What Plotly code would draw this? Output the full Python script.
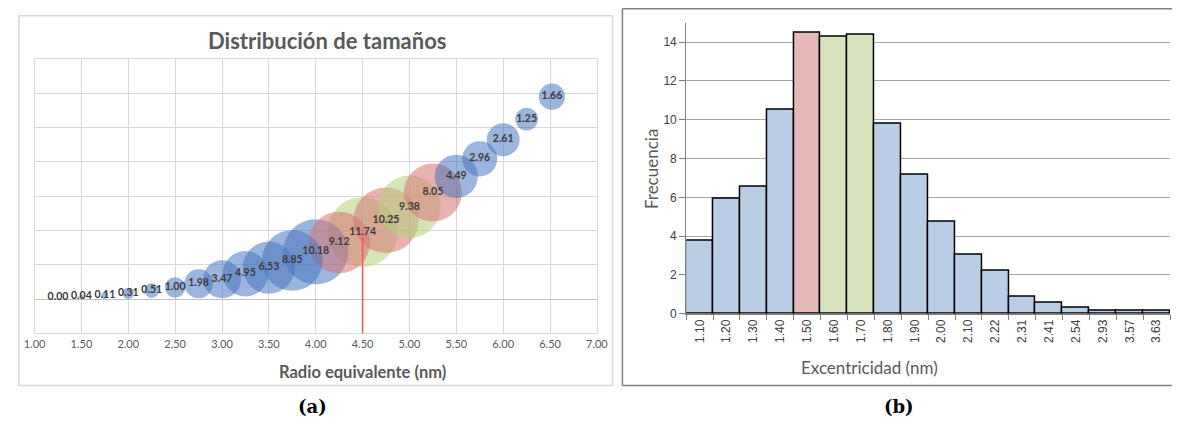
import plotly.graph_objects as go

# ---------- Panel (a): bubble chart data ----------
radio = [1.25, 1.5, 1.75, 2.0, 2.25, 2.5, 2.75, 3.0, 3.25, 3.5, 3.75,
         4.0, 4.25, 4.5, 4.75, 5.0, 5.25, 5.5, 5.75, 6.0, 6.25, 6.52]
volumen = [0.04, 0.07, 0.11, 0.17, 0.25, 0.34, 0.45, 0.58, 0.74, 0.92, 1.13,
           1.38, 1.65, 1.96, 2.30, 2.69, 3.11, 3.58, 4.09, 4.65, 5.25, 5.90]
porcentaje = [0.00, 0.04, 0.11, 0.31, 0.51, 1.00, 1.98, 3.47, 4.95, 6.53, 8.85,
              10.18, 9.12, 11.74, 10.25, 9.38, 8.05, 4.49, 2.96, 2.61, 1.25, 1.66]
grupo_a = ["b", "b", "b", "b", "b", "b", "b", "b", "b", "b", "b",
           "b", "r", "g", "r", "g", "r", "b", "b", "b", "b", "b"]
linea_media = 4.5
linea_top = 1.8

# ---------- Panel (b): histogram data ----------
excentricidad = ["1.10", "1.20", "1.30", "1.40", "1.50", "1.60", "1.70", "1.80", "1.90",
                 "2.00", "2.10", "2.22", "2.31", "2.41", "2.54", "2.93", "3.57", "3.63"]
frecuencia = [3.75, 5.95, 6.55, 10.5, 14.5, 14.3, 14.4, 9.8, 7.15,
              4.75, 3.05, 2.2, 0.86, 0.6, 0.3, 0.15, 0.15, 0.15]
grupo_b = ["b", "b", "b", "b", "r", "g", "g", "b", "b",
           "b", "b", "b", "b", "b", "b", "b", "b", "b"]

W, H = 1183, 430
bubble_cols = {"b": "rgba(70,118,190,0.77)", "r": "rgba(214,118,116,0.8)", "g": "rgba(180,208,125,0.8)"}
bar_cols = {"b": "#b9cde5", "r": "#e6b9b8", "g": "#d7e4bd"}
CAL = "Lato, 'Open Sans', sans-serif"
ARI = "'Liberation Sans', Arial, sans-serif"

# Excel draws larger bubbles first
order = sorted(range(len(radio)), key=lambda i: -porcentaje[i])

fig = go.Figure()
fig.add_trace(go.Scatter(
    x=[radio[i] for i in order], y=[volumen[i] for i in order],
    mode="markers+text",
    text=["<b>%.2f</b>" % porcentaje[i] for i in order],
    textposition="middle center",
    textfont=dict(family=CAL, size=10.5, color="#3a3a3a"),
    marker=dict(size=[porcentaje[i] for i in order], sizemode="area",
                sizeref=2 * max(porcentaje) / 70 ** 2,
                color=[bubble_cols[grupo_a[i]] for i in order],
                line=dict(width=0)),
    xaxis="x", yaxis="y", showlegend=False, hoverinfo="skip"))

fig.add_trace(go.Bar(
    x=excentricidad, y=frecuencia,
    marker=dict(color=[bar_cols[g] for g in grupo_b], line=dict(color="#000000", width=1.5)),
    xaxis="x2", yaxis="y2", showlegend=False, hoverinfo="skip"))

fig.add_shape(type="line", xref="x", yref="y", x0=linea_media, x1=linea_media,
              y0=-1, y1=linea_top, line=dict(color="#ff5050", width=1.5))

# frames
fig.add_shape(type="rect", xref="paper", yref="paper", x0=8 / W, x1=613 / W,
              y0=(H - 392) / H, y1=(H - 16) / H, line=dict(color="#d9d9d9", width=1.5), layer="below")
fb_top, fb_bot, fb_left = (H - 9) / H, (H - 392) / H, 623 / W
for (xa, ya, xb, yb) in [(fb_left, fb_top, 1.0, fb_top), (fb_left, fb_bot, 1.0, fb_bot),
                         (fb_left, fb_bot, fb_left, fb_top)]:
    fig.add_shape(type="line", xref="paper", yref="paper", x0=xa, y0=ya, x1=xb, y1=yb,
                  line=dict(color="#808080", width=1.5), layer="below")

ann = [
    dict(text="<b>Distribución de tamaños</b>", x=323 / W, y=(H - 41) / H,
         font=dict(family=CAL, size=22, color="#595959")),
    dict(text="<b>Radio equivalente (nm)</b>", x=358 / W, y=(H - 378) / H,
         font=dict(family=CAL, size=16.5, color="#595959")),
    dict(text="Frecuencia", x=652 / W, y=(H - 172) / H, textangle=-90,
         font=dict(family=CAL, size=17, color="#595959")),
    dict(text="Excentricidad (nm)", x=875 / W, y=(H - 374) / H,
         font=dict(family=CAL, size=17, color="#595959")),
    dict(text="<b>(a)</b>", x=307 / W, y=(H - 413) / H,
         font=dict(family="'DejaVu Serif', serif", size=18, color="#000000")),
    dict(text="<b>(b)</b>", x=905 / W, y=(H - 413) / H,
         font=dict(family="'DejaVu Serif', serif", size=18, color="#000000")),
]
for a in ann:
    a.update(xref="paper", yref="paper", showarrow=False, xanchor="center", yanchor="middle")

fig.update_layout(
    width=W, height=H, margin=dict(l=0, r=0, t=0, b=0),
    paper_bgcolor="white", plot_bgcolor="white", bargap=0,
    annotations=ann,
    xaxis=dict(domain=[24 / W, 597 / W], anchor="y", range=[1, 7], dtick=0.5, tick0=1,
               tickformat=".2f", showgrid=True, gridcolor="#d9d9d9", gridwidth=1,
               showline=True, mirror=True, linecolor="#d9d9d9", zeroline=False,
               ticks="", tickfont=dict(family=CAL, size=11, color="#595959")),
    yaxis=dict(domain=[(H - 339) / H, (H - 60) / H], anchor="x", range=[-1, 7], dtick=1,
               showgrid=True, gridcolor="#d9d9d9", gridwidth=1, showticklabels=False,
               showline=True, mirror=True, linecolor="#d9d9d9",
               zeroline=True, zerolinecolor="#bfbfbf", zerolinewidth=1.2, ticks=""),
    xaxis2=dict(domain=[688 / W, 1181 / W], anchor="y2", type="category",
                range=[-0.5, len(excentricidad) - 0.5], tickangle=-90,
                ticks="outside", tickson="boundaries", ticklen=5, tickcolor="#808080",
                showline=True, linecolor="#808080", showgrid=False,
                tickfont=dict(family=ARI, size=12, color="#404040")),
    yaxis2=dict(domain=[(H - 319) / H, (H - 23) / H], anchor="x2", range=[0, 15], dtick=2,
                ticks="outside", ticklen=6, tickcolor="#808080",
                showline=True, linecolor="#808080", showgrid=True, gridcolor="#a6a6a6",
                gridwidth=1, zeroline=False,
                tickfont=dict(family=ARI, size=12, color="#404040")),
)

fig.write_html("out.html", config={"displayModeBar": False, "responsive": False},
               post_script="document.body.style.margin='0';document.body.style.overflow='hidden';")
